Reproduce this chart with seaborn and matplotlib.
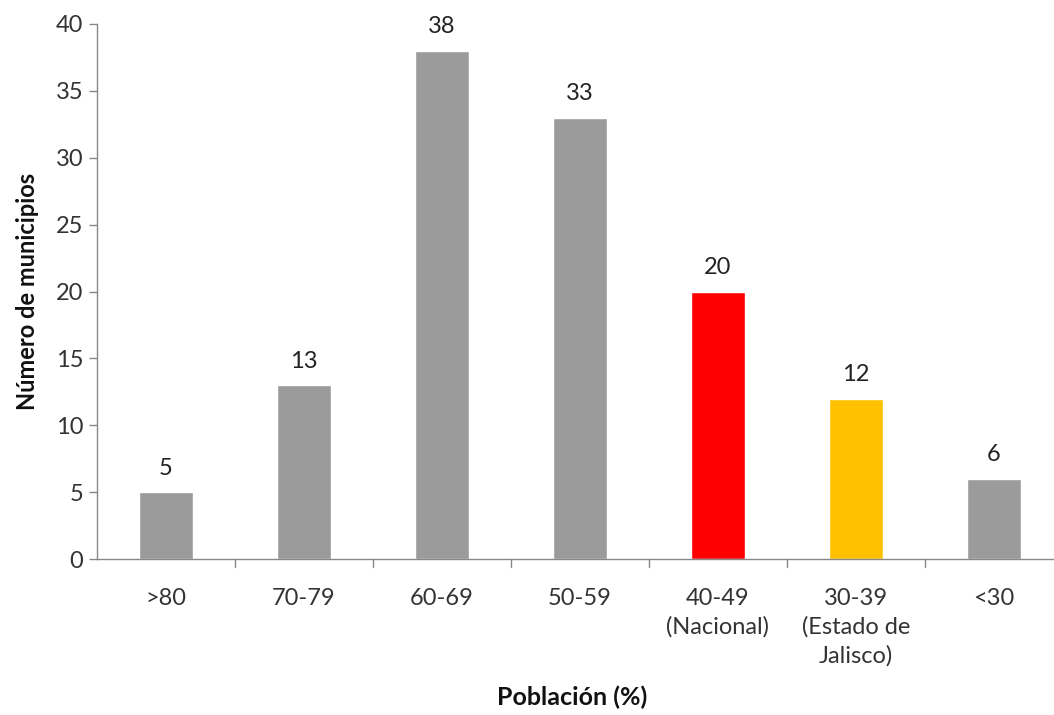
import matplotlib
matplotlib.use("Agg")
import matplotlib.pyplot as plt
import seaborn as sns
import pandas as pd

# Distribution of municipalities by share of population
categorias = [">80", "70-79", "60-69", "50-59", "40-49\n(Nacional)",
              "30-39\n(Estado de\nJalisco)", "<30"]
municipios = [5, 13, 38, 33, 20, 12, 6]
colores = ["#9b9b9b", "#9b9b9b", "#9b9b9b", "#9b9b9b", "#ff0000", "#ffc000", "#9b9b9b"]

sns.set_theme(style="white")
plt.rcParams["font.family"] = ["Lato", "DejaVu Sans"]

df = pd.DataFrame({"categoria": categorias, "municipios": municipios})

fig = plt.figure(figsize=(10.54, 7.15), dpi=100)
ax = fig.add_axes([97 / 1054, 1 - 559 / 715, 957 / 1054, (559 - 24) / 715])

sns.barplot(data=df, x="categoria", y="municipios", hue="categoria",
            palette=colores, legend=False, width=0.39, saturation=1, ax=ax)

ax.set_ylim(0, 40)
ax.set_xlim(-0.5, 6.435)
ax.set_yticks(range(0, 41, 5))
ax.tick_params(axis="y", labelsize=17, colors="#333333", length=6,
               width=1, direction="out", left=True, pad=4, color="#888888")
ax.set_xticks(range(len(categorias)))
ax.set_xticklabels(categorias, fontsize=17, color="#333333", linespacing=1.42)
ax.tick_params(axis="x", length=0, pad=21)
# boundary ticks between categories
for b in [i + 0.5 for i in range(len(categorias) - 1)]:
    ax.plot([b, b], [0, -0.6], color="#888888", lw=1, clip_on=False)

for s in ["top", "right"]:
    ax.spines[s].set_visible(False)
for s in ["left", "bottom"]:
    ax.spines[s].set_color("#888888")
    ax.spines[s].set_linewidth(1)

for i, v in enumerate(municipios):
    ax.text(i, v + 1.0, str(v), ha="center", va="bottom", fontsize=17, color="#222222")

ax.set_ylabel("Número de municipios", fontsize=17, fontweight="bold", color="#111111",
              labelpad=12)
ax.set_xlabel("")
fig.text(572 / 1054, 1 - 697 / 715, "Población (%)", ha="center", va="center",
         fontsize=18, fontweight="bold", color="#111111")

fig.savefig("out.png", dpi=100)
